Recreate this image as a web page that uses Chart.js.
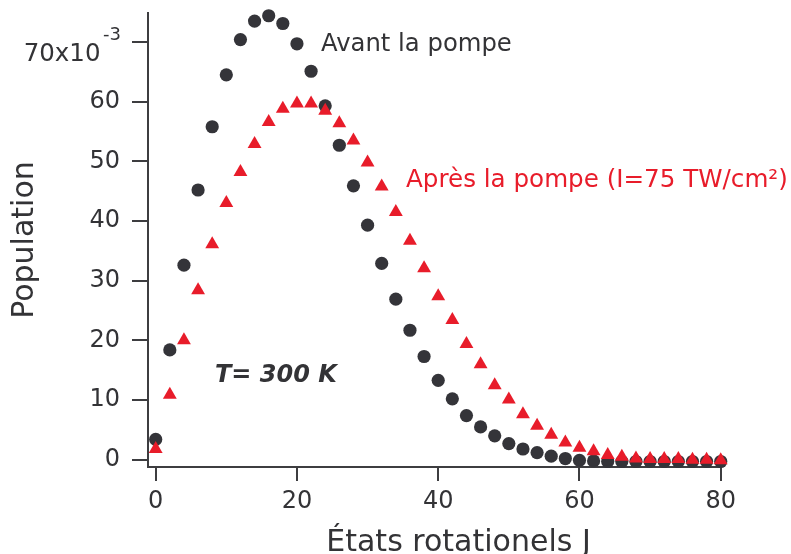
<!DOCTYPE html>
<html>
<head>
<meta charset="utf-8">
<script src="https://cdn.jsdelivr.net/npm/chart.js@4"></script>
<style>
  html, body { margin: 0; padding: 0; background: #ffffff; }
  canvas { display: block; }
</style>
</head>
<body>
<canvas id="c" width="791" height="554"></canvas>
<script>
// Rotational quantum number J (even states only)
const rotationalStates = [0, 2, 4, 6, 8, 10, 12, 14, 16, 18, 20, 22, 24, 26, 28, 30, 32, 34, 36, 38, 40,
                          42, 44, 46, 48, 50, 52, 54, 56, 58, 60, 62, 64, 66, 68, 70, 72, 74, 76, 78, 80];

// Population (x10^-3) before the pump pulse
const beforePump = [3.4, 18.4, 32.6, 45.2, 55.8, 64.5, 70.4, 73.5, 74.4, 73.1, 69.7,
                    65.1, 59.3, 52.7, 45.9, 39.3, 32.9, 26.9, 21.7, 17.3, 13.3,
                    10.2, 7.4, 5.5, 4.0, 2.7, 1.8, 1.2, 0.6, 0.2, -0.1,
                    -0.2, -0.3, -0.3, -0.3, -0.3, -0.3, -0.3, -0.3, -0.3, -0.3];

// Population (x10^-3) after the pump pulse (I = 75 TW/cm2)
const afterPump = [1.8, 10.9, 20.0, 28.4, 36.1, 43.0, 48.2, 52.9, 56.6, 58.8, 59.7,
                   59.7, 58.5, 56.4, 53.5, 49.8, 45.8, 41.5, 36.7, 32.1, 27.4,
                   23.4, 19.4, 16.0, 12.5, 10.1, 7.6, 5.7, 4.2, 2.9, 2.0,
                   1.4, 0.8, 0.5, 0.2, 0.1, 0.1, 0.1, 0.0, 0.0, -0.1];

const yTickValues = [0, 10, 20, 30, 40, 50, 60, 70];
const xTickValues = [0, 20, 40, 60, 80];

const yTopMantissa = '70x10';
const yTopExponent = '-3';
const yTitle = 'Population';
const xTitle = 'États rotationels J';
const beforeLabel = 'Avant la pompe';
const afterLabel = 'Après la pompe (I=75 TW/cm²)';
const temperatureLabel = 'T= 300 K';

const FONT = '"DejaVu Sans", Verdana, sans-serif';
const INK = '#333336';
const AXIS = '#3d3d40';
const DOT = '#343439';
const RED = '#e81c2a';

const toPoints = (ys) => rotationalStates.map((j, i) => ({ x: j, y: ys[i] }));

// Free text: series labels, temperature, x title and the exponent on the top y tick
const annotations = {
  id: 'annotations',
  afterDraw(chart) {
    const ctx = chart.ctx;
    const yScale = chart.scales.y;
    ctx.save();
    ctx.textBaseline = 'alphabetic';

    ctx.font = '24.3px ' + FONT;
    ctx.textAlign = 'left';
    ctx.fillStyle = INK;
    ctx.fillText(beforeLabel, 321, 50.5);

    ctx.fillStyle = RED;
    ctx.font = '24.6px ' + FONT;
    ctx.fillText(afterLabel, 406, 186.5);

    ctx.fillStyle = INK;
    ctx.font = 'italic bold 24px ' + FONT;
    ctx.fillText(temperatureLabel, 215, 381.5);

    const p70 = yScale.getPixelForValue(70);
    ctx.font = '24.5px ' + FONT;
    ctx.textAlign = 'right';
    ctx.fillText(yTopMantissa, 100.5, p70 + 18.5);
    ctx.font = '18px ' + FONT;
    ctx.textAlign = 'left';
    ctx.fillText(yTopExponent, 103, p70 - 2);

    ctx.font = '30px ' + FONT;
    ctx.textAlign = 'center';
    ctx.fillText(xTitle, 458.5, 551);
    ctx.restore();
  }
};

new Chart(document.getElementById('c'), {
  type: 'scatter',
  data: {
    datasets: [
      {
        label: afterLabel,
        data: toPoints(afterPump),
        pointStyle: 'triangle',
        pointRadius: 8,
        backgroundColor: RED,
        borderColor: RED,
        borderWidth: 0,
        order: 0,
        clip: false
      },
      {
        label: beforeLabel,
        data: toPoints(beforePump),
        pointStyle: 'circle',
        pointRadius: 6.6,
        backgroundColor: DOT,
        borderColor: DOT,
        borderWidth: 0,
        order: 1,
        clip: false
      }
    ]
  },
  options: {
    responsive: false,
    devicePixelRatio: 1,
    animation: false,
    events: [],
    layout: { padding: { left: 0, top: 13, right: 70, bottom: 0 } },
    plugins: { legend: { display: false }, tooltip: { enabled: false } },
    scales: {
      x: {
        type: 'linear',
        min: -1.09,
        max: 80.04,
        afterBuildTicks: (s) => { s.ticks = xTickValues.map(v => ({ value: v })); },
        afterFit: (s) => { s.height = 87; s.paddingLeft = 0; s.paddingRight = 0; },
        border: { display: true, color: AXIS, width: 2 },
        grid: { drawOnChartArea: false, drawTicks: true, tickLength: 14, color: AXIS, lineWidth: 2 },
        ticks: { color: INK, font: { family: FONT, size: 24 }, padding: 6, maxRotation: 0 },
        title: { display: false }
      },
      y: {
        type: 'linear',
        min: -1.22,
        max: 74.86,
        afterBuildTicks: (s) => { s.ticks = yTickValues.map(v => ({ value: v })); },
        afterFit: (s) => { s.width = 148; s.paddingTop = 0; s.paddingBottom = 0; },
        border: { display: true, color: AXIS, width: 2 },
        grid: { drawOnChartArea: false, drawTicks: true, tickLength: 16, color: AXIS, lineWidth: 2 },
        ticks: {
          color: INK,
          font: { family: FONT, size: 24 },
          padding: 12,
          callback: (v) => (v === 70 ? '' : String(v))
        },
        title: {
          display: true,
          text: yTitle,
          color: INK,
          font: { family: FONT, size: 30 },
          padding: { top: 7, bottom: 0 }
        }
      }
    }
  },
  plugins: [annotations]
});
</script>
</body>
</html>
